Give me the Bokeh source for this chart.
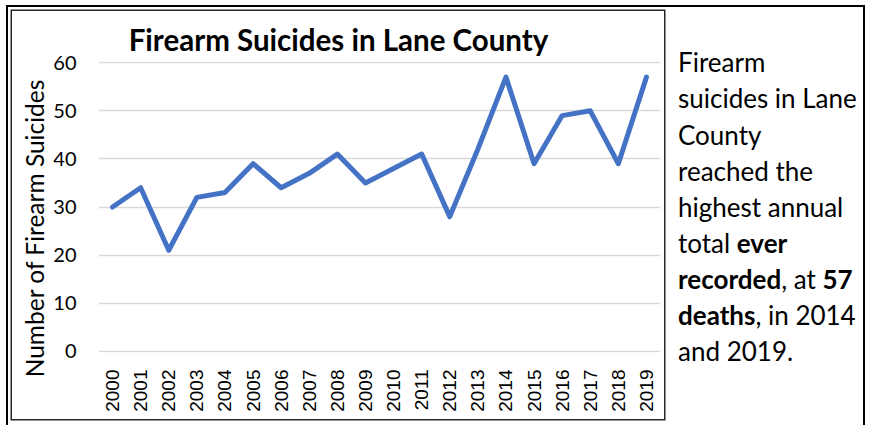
import glob
import html
import math
import os

from bokeh.embed import file_html
from bokeh.layouts import row
from bokeh.models import Div, FactorRange, FixedTicker, Range1d, Title
from bokeh.plotting import figure
from bokeh.resources import INLINE

# ---------------- data ----------------
years = ["2000", "2001", "2002", "2003", "2004", "2005", "2006", "2007", "2008", "2009",
         "2010", "2011", "2012", "2013", "2014", "2015", "2016", "2017", "2018", "2019"]
suicides = [30, 34, 21, 32, 33, 39, 34, 37, 41, 35, 38, 41, 28, 42, 57, 39, 49, 50, 39, 57]
y_ticks = [0, 10, 20, 30, 40, 50, 60]
title_text = "Firearm Suicides in Lane County"
y_label_text = "Number of Firearm Suicides"
note_lines = [
    [("Firearm", False)],
    [("suicides in Lane", False)],
    [("County", False)],
    [("reached the", False)],
    [("highest annual", False)],
    [("total ", False), ("ever", True)],
    [("recorded", True), (", at ", False), ("57", True)],
    [("deaths", True), (", in 2014", False)],
    [("and 2019.", False)],
]

# ---------------- text measuring ----------------
def _find(name):
    roots = ["/usr/share/fonts", "/usr/local/share/fonts",
             os.path.expanduser("~/.fonts"), os.path.expanduser("~/.local/share/fonts")]
    for r in roots:
        hits = glob.glob(os.path.join(r, "**", name), recursive=True)
        if hits:
            return hits[0]
    return None

try:
    from PIL import ImageFont
    _REG = _find("Lato-Regular.ttf")
    _BOLD = _find("Lato-Bold.ttf")
except Exception:
    ImageFont = None
    _REG = _BOLD = None

_cache = {}
def tw(s, size, bold=False):
    path = _BOLD if bold else _REG
    if ImageFont is not None and path:
        try:
            if path not in _cache:
                _cache[path] = ImageFont.truetype(path, 100)
            return _cache[path].getlength(s) * size / 100.0
        except Exception:
            pass
    return len(s) * size * (0.54 if bold else 0.50)

def fit(s, target, bold=False, fallback=20.0):
    w = tw(s, 100, bold)
    if w <= 0:
        return fallback
    return round(target / w * 100 * 2) / 2

FONT = "Lato"
title_size = fit(title_text, 420, True, 25)
note_size = fit("suicides in Lane", 178, False, 23)
ylab_size = fit(y_label_text, 298, False, 22)

# ---------------- layout (page pixel positions) ----------------
ROW_X, ROW_Y = 8, 7            # inner top-left of the table frame
CH_X, CH_Y = 12, 11             # chart box (inside its ring)
CH_W, CH_H = 652, 408
FL, FT, FR, FB = 98, 61, 660, 352   # plot frame on the page
NOTE_X, NOTE_W, NOTE_H = 666, 197, 418
LINE_H = 36.1
FIRST_BASELINE = 72.5

p = figure(width=CH_W, height=CH_H, x_range=FactorRange(*years),
           y_range=Range1d(-0.25, 60.25),
           output_backend="svg", toolbar_location=None, title=None,
           min_border_left=FL - CH_X, min_border_top=FT - CH_Y,
           min_border_right=CH_X + CH_W - FR, min_border_bottom=CH_Y + CH_H - FB,
           margin=(CH_Y - ROW_Y, 0, 0, CH_X - ROW_X),
           styles={"box-shadow": "0 0 0 1.5px #262626"})
p.background_fill_color = "white"
p.border_fill_color = "white"
p.outline_line_color = None

p.line(x=years, y=suicides, line_color="#4472C4", line_width=5,
       line_join="round", line_cap="round")

p.xgrid.grid_line_color = None
p.ygrid.grid_line_color = "#D9D9D9"
p.ygrid.grid_line_width = 1.5
p.yaxis.ticker = FixedTicker(ticks=y_ticks)

for ax in (p.xaxis[0], p.yaxis[0]):
    ax.axis_line_color = None
    ax.major_tick_line_color = None
    ax.minor_tick_line_color = None
    ax.major_tick_out = 0
    ax.major_tick_in = 0
    ax.major_label_text_color = "black"

p.yaxis.major_label_text_font = FONT
p.yaxis.major_label_text_font_size = "20px"
p.yaxis.major_label_standoff = 22

p.xaxis.major_label_text_font = "Liberation Sans"
p.xaxis.major_label_text_font_size = "19px"
p.xaxis.major_label_orientation = math.pi / 2
p.xaxis.major_label_standoff = 17

# chart title (above the plot), left edge chosen so the text centres at x=338
p.add_layout(Title(text=title_text, align="left",
                   offset=338 - FL - tw(title_text, title_size, True) / 2,
                   standoff=9, text_font=FONT, text_font_style="bold",
                   text_font_size=f"{title_size}px", text_color="black"), "above")

# y axis title (left side), centred at y=228 on the page
p.add_layout(Title(text=y_label_text, align="left",
                   offset=FB - 228 - tw(y_label_text, ylab_size) / 2,
                   standoff=4, text_font=FONT, text_font_style="normal",
                   text_font_size=f"{ylab_size}px", text_color="black"), "left")

# ---------------- side note (HTML text with bold runs) ----------------
_ascent, _descent = 0.987 * note_size, 0.213 * note_size
_base_in_line = (LINE_H - (_ascent + _descent)) / 2 + _ascent
pad_top = FIRST_BASELINE - ROW_Y - _base_in_line

def _run(txt, bold):
    t = html.escape(txt).replace(" ", "&nbsp;") if txt.endswith(" ") or txt.startswith(" ") else html.escape(txt)
    return f"<b>{t}</b>" if bold else t

body = "<br>".join("".join(_run(t, b) for t, b in runs) for runs in note_lines)
note_html = (f'<div style="font-family: {FONT}; font-size: {note_size}px; '
             f'line-height: {LINE_H}px; color: black; white-space: nowrap; margin: 0; '
             f'padding: {pad_top:.1f}px 0 0 {678 - NOTE_X}px;">{body}</div>')

note = Div(text=note_html, width=NOTE_W, height=NOTE_H,
           margin=(0, 0, 0, NOTE_X - (CH_X + CH_W)),
           styles={"background-color": "white"})

layout = row(p, note, margin=(ROW_Y, 0, 0, ROW_X),
             styles={"box-shadow": "0 0 0 2px #000000", "background-color": "white"})

open("out.html", "w").write(file_html(layout, INLINE))
